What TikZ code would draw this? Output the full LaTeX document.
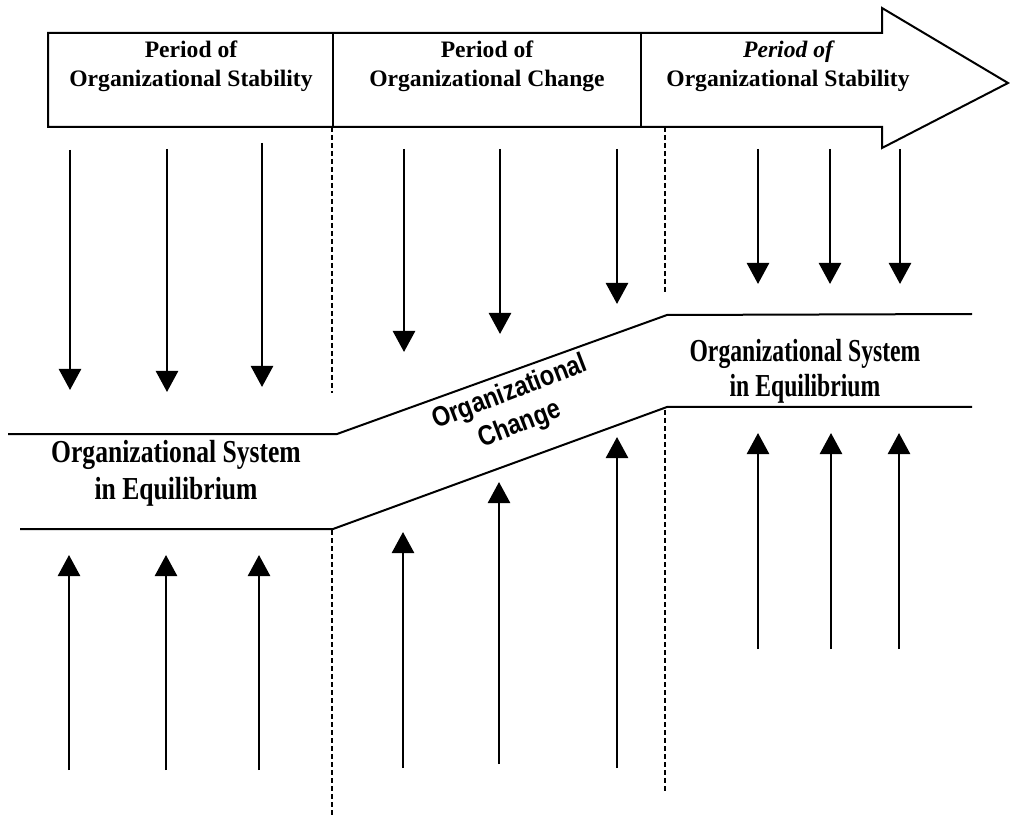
\documentclass[tikz,border=0pt]{standalone}
\usepackage{fontspec}
\setmainfont{Liberation Serif}
\newfontfamily\sansfnt{Liberation Sans}
\usetikzlibrary{arrows.meta}
\tikzset{
  outline/.style={line width=2pt, line join=miter},
  sep/.style={line width=1.6pt, dash pattern=on 5pt off 3pt},
  force/.style={line width=2.6pt, -{Triangle[width=22pt,length=21pt]}},
  band/.style={line width=2pt},
  headtxt/.style={font=\bfseries\fontsize{23.6}{28}\selectfont, inner sep=0pt, anchor=base},
  eqtxt/.style={font=\bfseries\fontsize{32}{36}\selectfont, inner sep=0pt, anchor=base},
  chtxt/.style={font=\sansfnt\bfseries\fontsize{28}{31}\selectfont, inner sep=0pt, rotate=21, xscale=0.84}
}
\begin{document}
\begin{tikzpicture}[x=1pt,y=1pt]
\useasboundingbox (0,0) rectangle (1010,-818);
\fill[white] (0,0) rectangle (1010,-818);
% banner arrow
\draw[outline] (48,-33) -- (882,-33) -- (882,-8) -- (1008,-83) -- (882,-148) -- (882,-127) -- (48,-127) -- cycle;
\draw[outline] (333,-33) -- (333,-127);
\draw[outline] (641,-33) -- (641,-127);
\node[headtxt] (h1a) at (191,-58) {Period of};
\node[headtxt] (h1b) at (191,-87) {Organizational Stability};
\node[headtxt] (h2a) at (487,-58) {Period of};
\node[headtxt] (h2b) at (487,-87) {Organizational Change};
\node[headtxt] (h3a) at (788,-58) {\itshape Period of};
\node[headtxt] (h3b) at (788,-87) {Organizational Stability};
% dashed separators
\coordinate (d1a) at (332,-127); \coordinate (d1b) at (332,-393);
\coordinate (d1c) at (332,-530); \coordinate (d1d) at (332,-818);
\coordinate (d2a) at (665,-127); \coordinate (d2b) at (665,-292);
\coordinate (d2c) at (665,-410); \coordinate (d2d) at (665,-792);
\draw[sep] (d1a) -- (d1b);
\draw[sep] (d1c) -- (d1d);
\draw[sep] (d2a) -- (d2b);
\draw[sep] (d2c) -- (d2d);
% band
\coordinate (u1) at (8,-434); \coordinate (u2) at (337,-434);
\coordinate (u3) at (667,-315); \coordinate (u4) at (972,-314);
\coordinate (l1) at (20,-529); \coordinate (l2) at (333,-529);
\coordinate (l3) at (667,-407); \coordinate (l4) at (972,-407);
\draw[band] (u1) -- (u2) -- (u3) -- (u4);
\draw[band] (l1) -- (l2) -- (l3) -- (l4);
% labels
\node[eqtxt, xscale=0.8] (e1a) at (176,-462) {Organizational System};
\node[eqtxt, xscale=0.8] (e1b) at (176,-499) {in Equilibrium};
\node[eqtxt, xscale=0.74] (e2a) at (805,-362) {Organizational System};
\node[eqtxt, xscale=0.74] (e2b) at (805,-397) {in Equilibrium};
\node[chtxt] (oc1) at (510,-393) {Organizational};
\node[chtxt] (oc2) at (520,-425) {Change};
% downward arrows
\foreach \n/\x/\ya/\yb in {a1/70/150/390, a2/167/149/392, a3/262/143/387,
  b1/404/149/352, b2/500/149/334, b3/617/149/304,
  c1/758/149/284, c2/830/149/284, c3/900/149/284}{
  \coordinate (s\n) at (\x,-\ya); \coordinate (t\n) at (\x,-\yb);
  \draw[force] (s\n) -- (t\n);
}
% upward arrows
\foreach \n/\x/\ya/\yb in {p1/69/770/555, p2/166/770/555, p3/259/770/555,
  q1/403/768/532, q2/499/764/482, q3/617/768/437,
  r1/758/649/433, r2/831/649/433, r3/899/649/433}{
  \coordinate (s\n) at (\x,-\ya); \coordinate (t\n) at (\x,-\yb);
  \draw[force] (s\n) -- (t\n);
}
\end{tikzpicture}
\end{document}
